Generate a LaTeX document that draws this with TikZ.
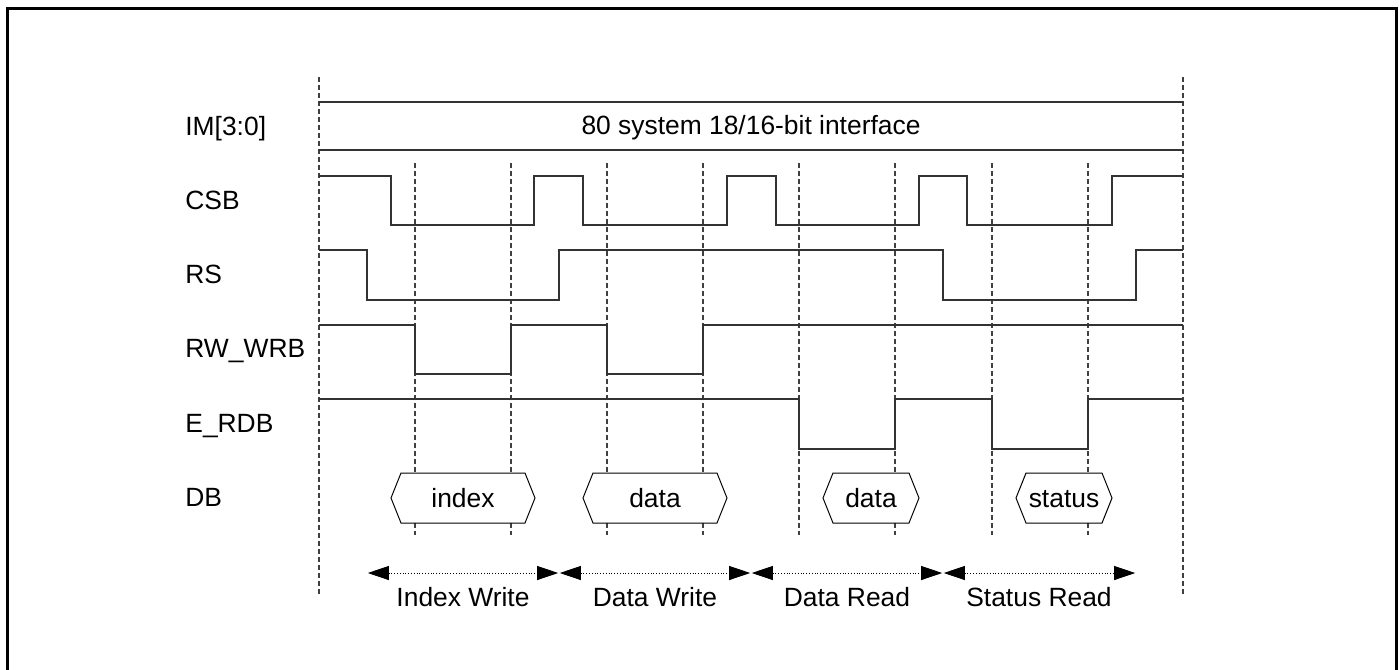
\documentclass[tikz,border=0pt]{standalone}
\usepackage{fontspec}
\setmainfont{Liberation Sans}
\usetikzlibrary{arrows.meta}

\begin{document}
\begin{tikzpicture}[x=0.5pt, y=-0.5pt,
        every node/.style={font=\fontsize{13.2}{15}\selectfont, inner sep=0pt},
        segnale/.style={black!80, line width=0.7pt},
        guida/.style={black!75, line width=0.55pt, dash pattern=on 2.5pt off 1.5pt},
        fase/.style={black, densely dotted, line width=0.4pt,
            {Triangle[length=10.5pt,width=7pt]}-{Triangle[length=10.5pt,width=7pt]}}]
        \useasboundingbox (0,0) rectangle (1399,670);

        % Cornice
        \draw[line width=1.5pt] (7,671) -- (7,8) -- (1396,8) -- (1396,671);

        % Linee guida tratteggiate
        \draw[guida] (319,77) -- (319,596);
        \draw[guida] (1183,77) -- (1183,596);
        \foreach \x in {415,511,607,703,799,895,992,1088}
            \draw[guida] (\x,163) -- (\x,535);

        % Nomi dei segnali
        \node[anchor=base west] (im)  at (185,135) {IM[3:0]};
        \node[anchor=base west] (csb) at (185,209) {CSB};
        \node[anchor=base west] (rs)  at (185,283) {RS};
        \node[anchor=base west] (wrb) at (185,357) {RW\_WRB};
        \node[anchor=base west] (rdb) at (185,432) {E\_RDB};
        \node[anchor=base west] (db)  at (185,506) {DB};

        % Bus IM[3:0]
        \draw[segnale] (319,102) -- (1183,102);
        \draw[segnale] (319,150) -- (1183,150);
        \node[anchor=base] (bus) at (751,134) {80 system 18/16-bit interface};

        % Forme d'onda
        \draw[segnale] (319,176) -| (391,225) -| (534,176) -| (583,225) -| (727,176)
            -| (776,225) -| (919,176) -| (967,225) -| (1112,176) -- (1183,176);
        \draw[segnale] (319,250) -| (367,300) -| (559,250) -| (943,300) -| (1136,250) -- (1183,250);
        \draw[segnale] (319,325) -| (415,374) -| (511,325) -| (607,374) -| (703,325) -- (1183,325);
        \draw[segnale] (319,399) -| (799,449) -| (895,399) -| (992,449) -| (1088,399) -- (1183,399);

        % Dati sul bus DB
        \foreach \a/\b/\t/\n in {391/535/index/iw, 583/727/data/dw, 823/919/data/dr, 1016/1112/status/sr} {
            \draw[black, line width=0.5pt, fill=white] (\a,498) -- (\a+10,473) -- (\b-10,473)
                -- (\b,498) -- (\b-10,523) -- (\a+10,523) -- cycle;
            \node[anchor=base] (db-\n) at ({(\a+\b)/2},507) {\t};
        }

        % Fasi
        \coordinate (f0) at (367,573);
        \coordinate (f1) at (559,573);
        \coordinate (f2) at (751,573);
        \coordinate (f3) at (943,573);
        \coordinate (f4) at (1136,573);
        \draw[fase, shorten <=0.4pt, shorten >=0.4pt] (f0) -- (f1);
        \draw[fase, shorten <=0.4pt, shorten >=0.4pt] (f1) -- (f2);
        \draw[fase, shorten <=0.4pt, shorten >=0.4pt] (f2) -- (f3);
        \draw[fase, shorten <=0.4pt, shorten >=0.4pt] (f3) -- (f4);
        \node[anchor=base] (iw) at (463,606) {Index Write};
        \node[anchor=base] (dw) at (655,606) {Data Write};
        \node[anchor=base] (dr) at (847,606) {Data Read};
        \node[anchor=base] (sr) at (1039,606) {Status Read};
    \end{tikzpicture}
\end{document}
